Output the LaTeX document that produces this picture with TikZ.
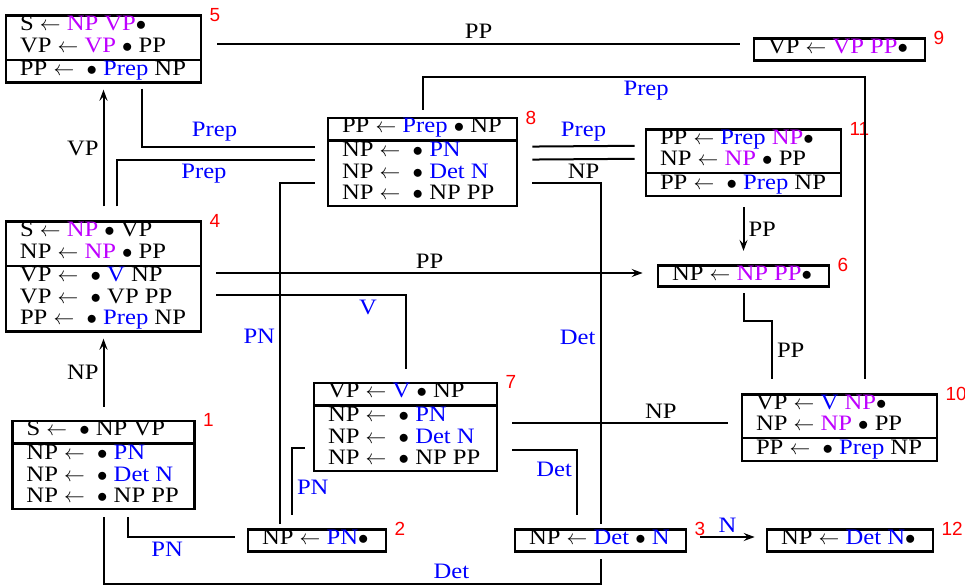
\documentclass[tikz,border=0pt]{standalone}
\usepackage{fontspec}
\setmainfont[FakeStretch=1.12]{Liberation Serif}
\newfontfamily\numfont{Liberation Sans}
\usepackage{array}
\usetikzlibrary{positioning,arrows.meta}
\definecolor{termblue}{RGB}{0,0,255}
\definecolor{seenviolet}{RGB}{190,0,255}
\setlength{\arrayrulewidth}{2.2pt}
\newcommand{\tm}[1]{\textcolor{termblue}{#1}}
\newcommand{\nt}[1]{\textcolor{seenviolet}{#1}}
\newcommand{\items}[2]{\begin{tabular}{@{\hspace{14pt}}p{#1}@{}}#2\end{tabular}}
\tikzset{
  itembox/.style={draw, line width=2.7pt, inner sep=0pt, font=\fontsize{22}{21.5}\selectfont},
  statenum/.style={font=\numfont\fontsize{19}{19}\selectfont, text=red, inner sep=0pt, anchor=north west},
  link/.style={line width=2pt},
  linkarrow/.style={link, -{Stealth[length=11pt, width=8pt, inset=4pt]}},
  linklabel/.style={font=\fontsize{22}{22}\selectfont, inner sep=4pt},
  termlabel/.style={linklabel, text=termblue},
}

\begin{document}
\begin{tikzpicture}[x=1pt, y=-1pt]
  \useasboundingbox (0,0) rectangle (965,586);
  % item sets
  \node[itembox] (b5) at (103.5,49) {\items{181pt}{S $\leftarrow$ \nt{NP VP}$\bullet$\\ VP $\leftarrow$ \nt{VP} $\bullet$ PP\\\hline PP $\leftarrow$ ~$\bullet$ \tm{Prep} NP}};
  \node[itembox] (b9) at (839.5,49.5) {\items{157pt}{VP $\leftarrow$ \nt{VP PP}$\bullet$}};
  \node[itembox] (b8) at (422.5,162) {\items{175pt}{PP $\leftarrow$ \tm{Prep} $\bullet$ NP\\\hline NP $\leftarrow$ ~$\bullet$ \tm{PN}\\ NP $\leftarrow$ ~$\bullet$ \tm{Det N}\\ NP $\leftarrow$ ~$\bullet$ NP PP}};
  \node[itembox] (b11) at (743.5,162.5) {\items{181pt}{PP $\leftarrow$ \tm{Prep} \nt{NP}$\bullet$\\ NP $\leftarrow$ \nt{NP} $\bullet$ PP\\\hline PP $\leftarrow$ ~$\bullet$ \tm{Prep} NP}};
  \node[itembox] (b4) at (103.5,276.5) {\items{181pt}{S $\leftarrow$ \nt{NP} $\bullet$ VP\\ NP $\leftarrow$ \nt{NP} $\bullet$ PP\\\hline VP $\leftarrow$ ~$\bullet$ \tm{V} NP\\ VP $\leftarrow$ ~$\bullet$ VP PP\\ PP $\leftarrow$ ~$\bullet$ \tm{Prep} NP}};
  \node[itembox] (b6) at (743.5,276) {\items{157pt}{NP $\leftarrow$ \nt{NP PP}$\bullet$}};
  \node[itembox] (b7) at (405.5,427) {\items{169pt}{VP $\leftarrow$ \tm{V} $\bullet$ NP\\\hline NP $\leftarrow$ ~$\bullet$ \tm{PN}\\ NP $\leftarrow$ ~$\bullet$ \tm{Det N}\\ NP $\leftarrow$ ~$\bullet$ NP PP}};
  \node[itembox] (b10) at (839.5,427.5) {\items{181pt}{VP $\leftarrow$ \tm{V} \nt{NP}$\bullet$\\ NP $\leftarrow$ \nt{NP} $\bullet$ PP\\\hline PP $\leftarrow$ ~$\bullet$ \tm{Prep} NP}};
  \node[itembox] (b1) at (103.5,465) {\items{168pt}{S $\leftarrow$ ~$\bullet$ NP VP\\\hline NP $\leftarrow$ ~$\bullet$ \tm{PN}\\ NP $\leftarrow$ ~$\bullet$ \tm{Det N}\\ NP $\leftarrow$ ~$\bullet$ NP PP}};
  \node[itembox] (b2) at (317,540.5) {\items{124pt}{NP $\leftarrow$ \tm{PN}$\bullet$}};
  \node[itembox] (b3) at (600.5,540.5) {\items{157pt}{NP $\leftarrow$ \tm{Det} $\bullet$ \tm{N}}};
  \node[itembox] (b12) at (850,540.5) {\items{152pt}{NP $\leftarrow$ \tm{Det N}$\bullet$}};
  % state numbers
  \node[statenum] (n1) at ([xshift=7pt,yshift=6pt]b1.north east) {1};
  \node[statenum] (n2) at ([xshift=7pt,yshift=6pt]b2.north east) {2};
  \node[statenum] (n3) at ([xshift=7pt,yshift=6pt]b3.north east) {3};
  \node[statenum] (n4) at ([xshift=7pt,yshift=6pt]b4.north east) {4};
  \node[statenum] (n5) at ([xshift=7pt,yshift=6pt]b5.north east) {5};
  \node[statenum] (n6) at ([xshift=7pt,yshift=6pt]b6.north east) {6};
  \node[statenum] (n7) at ([xshift=7pt,yshift=6pt]b7.north east) {7};
  \node[statenum] (n8) at ([xshift=7pt,yshift=6pt]b8.north east) {8};
  \node[statenum] (n9) at ([xshift=7pt,yshift=6pt]b9.north east) {9};
  \node[statenum] (n10) at ([xshift=7pt,yshift=6pt]b10.north east) {10};
  \node[statenum] (n11) at ([xshift=7pt,yshift=6pt]b11.north east) {11};
  \node[statenum] (n12) at ([xshift=7pt,yshift=6pt]b12.north east) {12};
  % from 1
  \draw[linkarrow] ([yshift=13pt]b1.north) -- node[linklabel, left]{NP} ([yshift=-6pt]b4.south);
  \draw[link] ([xshift=24pt,yshift=-7pt]b1.south) |- node[termlabel, below, pos=0.685]{PN} ([xshift=-12pt,yshift=3.5pt]b2.west);
  \draw[link] ([yshift=-7pt]b1.south) |- node[termlabel, above, pos=0.85]{Det} ([yshift=-31pt]b3.south) -- ([yshift=-6pt]b3.south);
  % from 4
  \draw[linkarrow] ([yshift=14pt]b4.north) -- node[linklabel, left]{VP} ([yshift=-6pt]b5.south);
  \draw[link] ([xshift=13.5pt,yshift=14pt]b4.north) |- node[termlabel, below, pos=0.72]{Prep} ([xshift=-12pt,yshift=-43pt]b8.north west);
  \draw[linkarrow] ([xshift=14pt,yshift=3.5pt]b4.east) -- node[linklabel, above]{PP} ([xshift=-14pt,yshift=3pt]b6.west);
  \draw[link] ([xshift=14pt,yshift=-18.5pt]b4.east) -| node[termlabel, below, pos=0.4]{V} ([xshift=0.5pt,yshift=13pt]b7.north);
  % from 5
  \draw[link] ([xshift=38.5pt,yshift=-5pt]b5.south) |- node[termlabel, above, pos=0.71]{Prep} ([xshift=-12pt,yshift=-30pt]b8.north west);
  \draw[link] ([xshift=15pt,yshift=5pt]b5.east) -- node[linklabel, above]{PP} ([xshift=-13pt,yshift=5.5pt]b9.west);
  % from 8
  \draw[link] ([xshift=-12pt,yshift=-66pt]b8.north west) -| node[termlabel, left, pos=0.725]{PN} ([xshift=-37pt,yshift=4pt]b2.north);
  \draw[link] ([xshift=14pt,yshift=-66pt]b8.north east) -| node[termlabel, left, pos=0.727]{Det} ([yshift=4pt]b3.north);
  \draw[link] ([xshift=14pt,yshift=-30pt]b8.north east) -- node[termlabel, above]{Prep} ([xshift=-10pt,yshift=-18pt]b11.north west);
  \draw[link] ([xshift=14pt,yshift=-43pt]b8.north east) -- node[linklabel, below]{NP} ([xshift=-10pt,yshift=-31pt]b11.north west);
  % from 11, 6, 10
  \draw[linkarrow] ([yshift=-10pt]b11.south) -- node[linklabel, right]{PP} ([yshift=13pt]b6.north);
  \draw[link] ([yshift=-5pt]b6.south) -- ++(0,28) -| node[linklabel, right, pos=0.75]{PP} ([xshift=-67.5pt,yshift=14pt]b10.north);
  \draw[link] ([xshift=25pt,yshift=14pt]b10.north) |- node[termlabel, below, pos=0.747]{Prep} ([yshift=40pt]b8.north) -- ([yshift=7pt]b8.north);
  % from 7
  \draw[link] ([xshift=14pt,yshift=4pt]b7.east) -- node[linklabel, above, pos=0.69]{NP} ([xshift=-13pt,yshift=4.5pt]b10.west);
  \draw[link] ([xshift=14pt,yshift=-23pt]b7.east) -| node[termlabel, left, pos=0.65]{Det} ([xshift=-23.5pt,yshift=13pt]b3.north);
  \draw[link] ([xshift=-8pt,yshift=-21pt]b7.west) -| node[termlabel, right, pos=0.79]{PN} ([xshift=-25pt,yshift=13pt]b2.north);
  % from 3
  \draw[linkarrow] ([xshift=13pt,yshift=3.5pt]b3.east) -- node[termlabel, above]{N} ([xshift=-11pt,yshift=3.5pt]b12.west);
\end{tikzpicture}
\end{document}
